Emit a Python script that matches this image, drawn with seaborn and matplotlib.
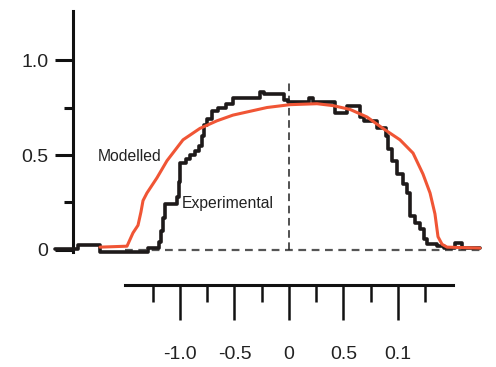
import matplotlib
matplotlib.use("Agg")
import matplotlib.pyplot as plt
import seaborn as sns
import pandas as pd
from matplotlib.ticker import FixedLocator

# ---- data ----
exp_x = [-2.147, -1.936, -1.734, -1.294, -1.193, -1.174, -1.156, -1.138, -1.028, -1.009,
         -1.000, -0.945, -0.908, -0.862, -0.826, -0.798, -0.780, -0.752, -0.706, -0.651,
         -0.578, -0.514, -0.266, -0.229, -0.046, -0.009, 0.183, 0.220, 0.422, 0.532,
         0.651, 0.688, 0.807, 0.890, 0.908, 0.945, 0.991, 1.046, 1.083, 1.110,
         1.156, 1.202, 1.239, 1.266, 1.358, 1.422, 1.523, 1.587, 1.752]
exp_y = [0.005, 0.026, -0.010, 0.010, 0.040, 0.100, 0.170, 0.240, 0.280, 0.360,
         0.460, 0.480, 0.500, 0.520, 0.550, 0.600, 0.660, 0.690, 0.730, 0.750,
         0.770, 0.800, 0.830, 0.820, 0.790, 0.780, 0.800, 0.780, 0.720, 0.760,
         0.700, 0.680, 0.640, 0.600, 0.530, 0.470, 0.400, 0.350, 0.300, 0.180,
         0.140, 0.110, 0.060, 0.030, 0.020, 0.010, 0.035, 0.010, 0.010]

mod_x = [-1.734, -1.486, -1.431, -1.385, -1.358, -1.339, -1.303, -1.211, -1.119, -0.972,
         -0.817, -0.661, -0.514, -0.358, -0.202, 0.009, 0.257, 0.404, 0.560, 0.716,
         0.862, 1.018, 1.138, 1.229, 1.294, 1.339, 1.367, 1.404, 1.450, 1.752]
mod_y = [0.015, 0.020, 0.090, 0.130, 0.200, 0.260, 0.300, 0.380, 0.470, 0.580,
         0.640, 0.680, 0.710, 0.730, 0.750, 0.765, 0.770, 0.760, 0.740, 0.700,
         0.640, 0.580, 0.510, 0.400, 0.300, 0.190, 0.070, 0.030, 0.015, 0.010]

y_ticks = [0, 0.5, 1.0]
y_tick_labels = ["0", "0.5", "1.0"]
y_minor = [0.25, 0.75]
x_ticks = [-1.0, -0.5, 0, 0.5, 1.0]
x_tick_labels = ["-1.0", "-0.5", "0", "0.5", "0.1"]
x_minor = [-1.25, -0.75, -0.25, 0.25, 0.75, 1.25]

sns.set_theme(style="white")
plt.rcParams["font.family"] = ["Liberation Sans", "DejaVu Sans"]

fig = plt.figure(figsize=(4.96, 3.67), dpi=100)
ax = fig.add_axes([0, 0, 1, 1])
ax.set_facecolor("none")
XL = (-2.651, 1.899)
ax.set_xlim(*XL)
ax.set_ylim(-0.616, 1.316)

df_exp = pd.DataFrame({"x": exp_x, "y": exp_y})
df_mod = pd.DataFrame({"x": mod_x, "y": mod_y})

# reference lines
ax.plot([-1.5, 1.75], [0, 0], color="#555555", lw=1.6, ls=(0, (3.5, 2.5)), zorder=1)
ax.plot([0, 0], [0, 0.88], color="#222222", lw=1.1, ls=(0, (5, 3)), zorder=1)

sns.lineplot(data=df_exp, x="x", y="y", ax=ax, color="#1e1a1a", lw=2.6,
             drawstyle="steps-post", estimator=None, sort=False, zorder=3)
sns.lineplot(data=df_mod, x="x", y="y", ax=ax, color="#f05535", lw=2.2,
             estimator=None, sort=False, zorder=4)

# y axis
for s in ["top", "right", "bottom"]:
    ax.spines[s].set_visible(False)
ax.spines["left"].set_visible(True)
ax.spines["left"].set_position(("data", -1.98))
ax.spines["left"].set_bounds(-0.01, 1.26)
ax.spines["left"].set_linewidth(2.2)
ax.spines["left"].set_color("#111111")
ax.set_yticks(y_ticks)
ax.set_yticklabels(y_tick_labels)
ax.yaxis.set_minor_locator(FixedLocator(y_minor))
ax.tick_params(axis="y", which="major", left=True, length=13, width=2.2,
               color="#111111", labelsize=14, pad=5, labelcolor="#222222")
ax.tick_params(axis="y", which="minor", left=True, length=6.5, width=2.2, color="#111111")
ax.set_xticks([])
ax.set_xlabel("")
ax.set_ylabel("")

ax.text(-1.75, 0.49, "Modelled", fontsize=11.3, color="#222222", ha="left", va="center")
ax.text(-0.98, 0.245, "Experimental", fontsize=11.3, color="#222222", ha="left", va="center")

# separate x axis below
ax2 = fig.add_axes([0, 1 - 285 / 367, 1, 1e-4])
ax2.set_facecolor("none")
ax2.set_xlim(*XL)
for s in ["top", "right", "left"]:
    ax2.spines[s].set_visible(False)
ax2.spines["bottom"].set_visible(True)
ax2.spines["bottom"].set_bounds(-1.5, 1.5)
ax2.spines["bottom"].set_linewidth(2.2)
ax2.spines["bottom"].set_color("#111111")
ax2.set_yticks([])
ax2.set_xticks(x_ticks)
ax2.set_xticklabels(x_tick_labels)
ax2.xaxis.set_minor_locator(FixedLocator(x_minor))
ax2.tick_params(axis="x", which="major", bottom=True, length=25, width=1.8,
                color="#111111", labelsize=14, pad=19, labelcolor="#222222")
ax2.tick_params(axis="x", which="minor", bottom=True, length=12, width=1.8, color="#111111")

fig.savefig("out.png", dpi=100)
